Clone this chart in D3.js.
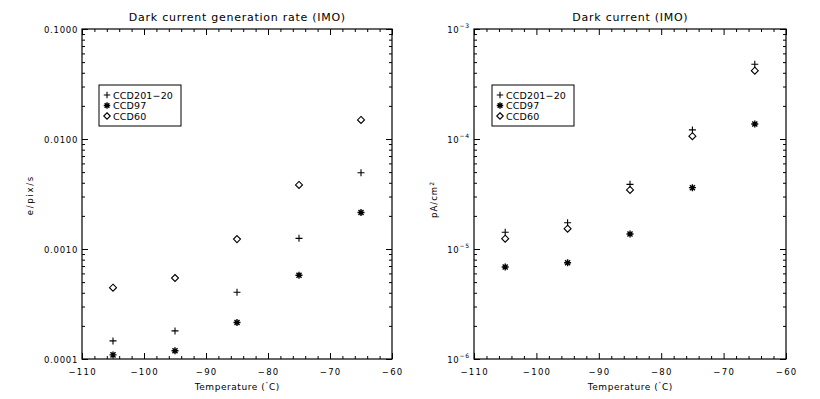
<!DOCTYPE html>
<html>
<head>
<meta charset="utf-8">
<script src="https://cdn.jsdelivr.net/npm/d3@7"></script>
<style>
  body { margin: 0; background: #fff; }
  svg text { font-family: "DejaVu Sans", Verdana, sans-serif; fill: #000; }
</style>
</head>
<body>
<svg id="chart" width="820" height="399"></svg>
<script>
// Daten
const temps = [-105, -95, -85, -75, -65];
const seriesNames = ['CCD201-20', 'CCD97', 'CCD60'];
const seriesSymbols = ['plus', 'star', 'diamond'];

// Generationsrate e/pix/s
const rateCCD201 = [1.46e-4, 1.80e-4, 4.04e-4, 1.25e-3, 4.94e-3];
const rateCCD97  = [1.09e-4, 1.19e-4, 2.15e-4, 5.77e-4, 2.15e-3];
const rateCCD60  = [4.45e-4, 5.45e-4, 1.23e-3, 3.82e-3, 1.49e-2];

// Dunkelstrom pA/cm²
const curCCD201 = [1.42e-5, 1.73e-5, 3.87e-5, 1.21e-4, 4.78e-4];
const curCCD97  = [6.86e-6, 7.51e-6, 1.37e-5, 3.61e-5, 1.37e-4];
const curCCD60  = [1.24e-5, 1.53e-5, 3.44e-5, 1.06e-4, 4.18e-4];

const xDomain = [-110, -60];
const xTicks = [-110, -100, -90, -80, -70, -60];
const rateTicks = [1e-4, 1e-3, 1e-2, 1e-1];
const curTicks = [1e-6, 1e-5, 1e-4, 1e-3];

const svg = d3.select('#chart');
svg.append('rect').attr('width', 820).attr('height', 399).attr('fill', '#fff');

const TOP = 29, BOTTOM = 359;

// Hershey-Schrift ist breit: Zeichenabstand so setzen, dass Breite passt
function spacingFor(node, target) {
  const len = node.getComputedTextLength();
  const n = node.textContent.length;
  return (target - len) / n;
}
function applySpacing(sel, ls, centered) {
  sel.attr('letter-spacing', ls);
  if (centered) sel.attr('dx', ls / 2);
}

function symbolPath(type, s) {
  const h = s / 2;
  if (type === 'plus') return `M${-h},0H${h}M0,${-h}V${h}`;
  if (type === 'diamond') return `M0,${-h}L${h},0L0,${h}L${-h},0Z`;
  // Sternchen (IDL psym=2)
  const d = h * 0.72;
  return `M${-h},0H${h}M0,${-h}V${h}M${-d},${-d}L${d},${d}M${-d},${d}L${d},${-d}`;
}

function drawPanel(opts) {
  const x = d3.scaleLinear().domain(xDomain).range([opts.x0, opts.x1]);
  const y = d3.scaleLog().domain(opts.yDomain).range([BOTTOM, TOP]);
  const g = svg.append('g');
  const cx = (opts.x0 + opts.x1) / 2;

  // Nebenteilstriche
  const xMinor = d3.range(-110, -59, 2).filter(v => v % 10 !== 0);
  const yMinor = [];
  for (let e = Math.log10(opts.yDomain[0]); e < Math.log10(opts.yDomain[1]); e++) {
    for (let k = 2; k <= 9; k++) yMinor.push(k * Math.pow(10, e));
  }

  const makers = [
    () => d3.axisBottom(x), () => d3.axisTop(x),
    () => d3.axisLeft(y), () => d3.axisRight(y)
  ];
  const shifts = [`translate(0,${BOTTOM})`, `translate(0,${TOP})`,
                  `translate(${opts.x0},0)`, `translate(${opts.x1},0)`];
  makers.forEach((mk, i) => {
    const isX = i < 2;
    g.append('g').attr('transform', shifts[i])
      .call(mk().tickValues(isX ? xTicks : opts.yTicks)
        .tickSizeInner(-6).tickSizeOuter(0).tickFormat(''));
    g.append('g').attr('transform', shifts[i])
      .call(mk().tickValues(isX ? xMinor : yMinor)
        .tickSizeInner(-3).tickSizeOuter(0).tickFormat(''));
  });
  g.selectAll('.domain').remove();
  g.selectAll('line').attr('stroke', '#000').attr('stroke-width', 1);

  // Rahmen
  g.append('rect')
    .attr('x', opts.x0).attr('y', TOP)
    .attr('width', opts.x1 - opts.x0).attr('height', BOTTOM - TOP)
    .attr('fill', 'none').attr('stroke', '#000').attr('stroke-width', 1.2);

  // Y-Beschriftungen
  const yl = g.selectAll('text.yt').data(opts.yTicks).join('text').attr('class', 'yt')
    .attr('x', opts.x0 - 4).attr('y', d => y(d) + 3.5)
    .attr('text-anchor', 'end').attr('font-size', 8.5);
  let tickLs = 1;
  if (opts.sci) {
    yl.each(function (d) {
      const t = d3.select(this);
      t.append('tspan').attr('font-size', 8.5).text('10');
      t.append('tspan').attr('dy', -4.5).attr('font-size', 6)
        .text('\u2212' + Math.round(-Math.log10(d)));
    });
    yl.attr('letter-spacing', 0.8);
  } else {
    yl.text(d => d3.format('.4f')(d));
    tickLs = spacingFor(yl.node(), 34);
    applySpacing(yl, tickLs, false);
  }

  // X-Beschriftungen
  const xl = g.selectAll('text.xt').data(xTicks).join('text').attr('class', 'xt')
    .attr('x', d => x(d)).attr('y', 375)
    .attr('text-anchor', 'middle').attr('font-size', 8.5)
    .text(d => d3.format('d')(d).replace('-', '\u2212'));
  applySpacing(xl, 1.3, true);

  // Titel
  const title = g.append('text').attr('x', cx).attr('y', 21)
    .attr('text-anchor', 'middle').attr('font-size', 11).text(opts.title);
  applySpacing(title, spacingFor(title.node(), opts.titleW), true);

  // X-Achsentitel
  const xt = g.append('text').attr('x', cx).attr('y', 390)
    .attr('text-anchor', 'middle').attr('font-size', 9);
  xt.append('tspan').text('Temperature (');
  xt.append('tspan').attr('dy', -3).attr('font-size', 6).text('\u02DA');
  xt.append('tspan').attr('dy', 3).text('C)');
  applySpacing(xt, spacingFor(xt.node(), 85), true);

  // Y-Achsentitel
  const yt = g.append('text')
    .attr('transform', `translate(${opts.yLabelX},${opts.yLabelY}) rotate(-90)`)
    .attr('text-anchor', 'middle').attr('font-size', 8.5);
  yt.append('tspan').text(opts.yLabel);
  if (opts.yLabelSup) {
    yt.append('tspan').attr('dy', -3.5).attr('font-size', 6).text(opts.yLabelSup);
  }
  applySpacing(yt, spacingFor(yt.node(), opts.yLabelW), true);

  // Datenpunkte
  opts.series.forEach((vals, si) => {
    g.append('g').selectAll('path').data(vals.map((v, i) => [temps[i], v])).join('path')
      .attr('transform', d => `translate(${x(d[0])},${y(d[1])})`)
      .attr('d', symbolPath(seriesSymbols[si], 7))
      .attr('fill', 'none').attr('stroke', '#000')
      .attr('stroke-width', si === 1 ? 1.4 : 1.1);
  });

  // Legende
  const lg = g.append('g').attr('transform', `translate(${opts.legendX},85)`);
  lg.append('rect').attr('width', 82).attr('height', 41)
    .attr('fill', '#fff').attr('stroke', '#000').attr('stroke-width', 1);
  let legLs = null;
  seriesNames.forEach((name, i) => {
    const cy = 10 + i * 10.5;
    lg.append('path').attr('transform', `translate(8,${cy})`)
      .attr('d', symbolPath(seriesSymbols[i], 6.5))
      .attr('fill', 'none').attr('stroke', '#000')
      .attr('stroke-width', i === 1 ? 1.4 : 1.1);
    const t = lg.append('text').attr('x', 14).attr('y', cy + 3.5)
      .attr('font-size', 9.5).text(name.replace('-', '\u2212'));
    if (legLs === null) legLs = spacingFor(t.node(), 60);
    t.attr('letter-spacing', legLs);
  });
}

drawPanel({
  x0: 82, x1: 392,
  yDomain: [1e-4, 1e-1], yTicks: rateTicks, sci: false,
  title: 'Dark current generation rate (IMO)', titleW: 217,
  yLabel: 'e/pix/s', yLabelX: 33, yLabelY: 196, yLabelW: 40,
  series: [rateCCD201, rateCCD97, rateCCD60],
  legendX: 99
});

drawPanel({
  x0: 474, x1: 786,
  yDomain: [1e-6, 1e-3], yTicks: curTicks, sci: true,
  title: 'Dark current (IMO)', titleW: 116,
  yLabel: 'pA/cm', yLabelSup: '2', yLabelX: 437, yLabelY: 200, yLabelW: 37,
  series: [curCCD201, curCCD97, curCCD60],
  legendX: 492
});
</script>
</body>
</html>
